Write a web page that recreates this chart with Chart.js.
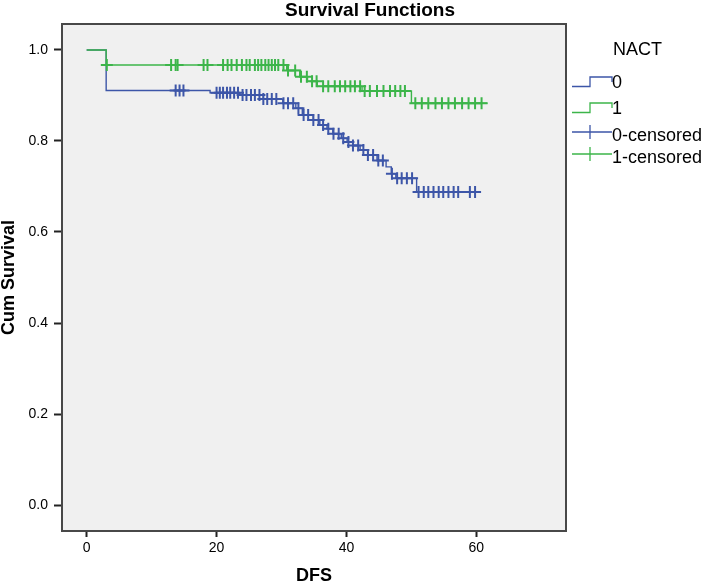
<!DOCTYPE html>
<html>
<head>
<meta charset="utf-8">
<script src="https://cdn.jsdelivr.net/npm/chart.js@4/dist/chart.umd.min.js"></script>
<style>
  html, body { margin: 0; padding: 0; background: #fff; }
  #wrap { width: 708px; height: 585px; }
</style>
</head>
<body>
<div id="wrap"><canvas id="chartCanvas" width="708" height="585"></canvas></div>
<script>
// Kaplan-Meier curves
var chartTitle = 'Survival Functions';
var legendTitle = 'NACT';
var groupNames = ['0', '1'];

// NACT = 0 : step times and survival after each step
var times0 = [0, 3.0, 19.0, 23.6, 27.2, 30.2, 32.2, 33.2, 34.9, 35.9, 37.0, 37.9, 39.2, 40.1, 41.0, 42.1, 43.3, 44.7, 46.1, 46.9, 47.6, 50.8, 60.6];
var surv0 = [1.0, 0.911, 0.906, 0.901, 0.892, 0.883, 0.872, 0.857, 0.846, 0.835, 0.827, 0.816, 0.806, 0.798, 0.790, 0.780, 0.769, 0.757, 0.743, 0.728, 0.718, 0.688, 0.688];
var censored0 = [13.7, 14.3, 14.9, 20.0, 20.5, 21.0, 21.6, 22.1, 22.7, 23.3, 24.0, 24.6, 25.3, 25.9, 26.6, 27.2, 27.8, 28.5, 29.2,
    30.3, 31.0, 31.8, 32.6, 33.4, 34.1, 34.9, 35.7, 36.4, 37.2, 38.0, 38.8, 39.5, 40.3, 41.0, 41.8, 42.6, 43.3, 44.1, 44.9, 45.6,
    47.0, 47.8, 48.5, 49.3, 50.1, 51.1, 51.9, 52.6, 53.4, 54.2, 54.9, 55.7, 56.5, 57.2, 59.0, 59.8];

// NACT = 1
var times1 = [0, 3.0, 30.8, 32.8, 34.0, 35.5, 42.4, 50.0, 61.7];
var surv1 = [1.0, 0.967, 0.955, 0.941, 0.931, 0.920, 0.910, 0.883, 0.883];
var censored1 = [3.1, 13.0, 13.7, 14.0, 18.0, 18.6, 21.0, 21.7, 22.3, 23.1, 23.9, 24.6, 25.1, 25.9, 26.4, 26.9, 27.5, 28.0, 28.5, 29.0,
    29.5, 30.3, 31.0, 32.1, 33.0, 33.9, 34.7, 35.4, 36.4, 37.2, 38.2, 39.0, 39.8, 40.6, 41.3, 42.1, 42.8, 43.6, 44.7, 45.7,
    46.7, 47.5, 48.3, 49.0, 50.6, 51.6, 52.6, 53.7, 54.7, 55.7, 56.7, 57.8, 58.8, 59.8, 60.8];

var xTickValues = [0, 20, 40, 60];
var yTickValues = [0, 0.2, 0.4, 0.6, 0.8, 1.0];

var blue = '#3d56a8';
var green = '#3cb54a';

function stepPoints(times, surv) {
    return times.map(function (t, i) { return { x: t, y: surv[i] }; });
}

// survival level at time t (last step at or before t)
function survAt(times, surv, t) {
    var s = surv[0];
    for (var i = 0; i < times.length; i++) {
        if (times[i] <= t) s = surv[i];
    }
    return s;
}

function censorPoints(times, surv, cens) {
    return cens.map(function (t) { return { x: t, y: survAt(times, surv, t) }; });
}

var plotFrame = {
    id: 'plotFrame',
    beforeDraw: function (chart) {
        var a = chart.chartArea, ctx = chart.ctx;
        ctx.save();
        ctx.fillStyle = '#f0f0f0';
        ctx.fillRect(a.left, a.top, a.right - a.left, a.bottom - a.top);
        ctx.restore();
    },
    afterDraw: function (chart) {
        var a = chart.chartArea, ctx = chart.ctx;
        ctx.save();
        ctx.strokeStyle = '#484848';
        ctx.lineWidth = 2;
        ctx.strokeRect(a.left, a.top, a.right - a.left, a.bottom - a.top);

        // title
        ctx.fillStyle = '#000';
        ctx.font = 'bold 19px "Liberation Sans", Arial, sans-serif';
        ctx.textAlign = 'left';
        ctx.textBaseline = 'alphabetic';
        ctx.fillText(chartTitle, 285, 16);

        // legend
        var lx = 572, rx = 612, mx = 590;
        ctx.font = '18px "Liberation Sans", Arial, sans-serif';
        ctx.fillText(legendTitle, 613, 55);
        var rows = [
            { text: groupNames[0], color: blue, kind: 'step', base: 88 },
            { text: groupNames[1], color: green, kind: 'step', base: 114 },
            { text: groupNames[0] + '-censored', color: blue, kind: 'cross', base: 141 },
            { text: groupNames[1] + '-censored', color: green, kind: 'cross', base: 163 }
        ];
        rows.forEach(function (r) {
            ctx.strokeStyle = r.color;
            ctx.lineWidth = 1.3;
            ctx.beginPath();
            if (r.kind === 'step') {
                var lo = r.base - 1.5, hi = r.base - 11;
                ctx.moveTo(lx, lo);
                ctx.lineTo(mx, lo);
                ctx.lineTo(mx, hi);
                ctx.lineTo(rx, hi);
                ctx.lineTo(rx, hi + 5);
            } else {
                var cy = r.base - 9;
                ctx.moveTo(lx, cy);
                ctx.lineTo(rx, cy);
                ctx.moveTo(mx, cy - 7);
                ctx.lineTo(mx, cy + 7);
            }
            ctx.stroke();
            ctx.fillStyle = '#000';
            ctx.fillText(r.text, rx, r.base);
        });
        ctx.restore();
    }
};

Chart.defaults.font.family = '"Liberation Sans", Arial, sans-serif';
Chart.defaults.color = '#000';

var ctx = document.getElementById('chartCanvas').getContext('2d');

var chart = new Chart(ctx, {
    type: 'scatter',
    data: {
        datasets: [
            {
                label: groupNames[1] + '-censored',
                data: censorPoints(times1, surv1, censored1),
                showLine: false,
                pointStyle: 'cross',
                pointRadius: 6,
                borderColor: green,
                borderWidth: 2
            },
            {
                label: groupNames[1],
                data: stepPoints(times1, surv1),
                showLine: true,
                stepped: true,
                pointRadius: 0,
                borderColor: green,
                borderWidth: 1.4
            },
            {
                label: groupNames[0] + '-censored',
                data: censorPoints(times0, surv0, censored0),
                showLine: false,
                pointStyle: 'cross',
                pointRadius: 6,
                borderColor: blue,
                borderWidth: 2
            },
            {
                label: groupNames[0],
                data: stepPoints(times0, surv0),
                showLine: true,
                stepped: true,
                pointRadius: 0,
                borderColor: blue,
                borderWidth: 1.4
            }
        ]
    },
    options: {
        responsive: false,
        animation: false,
        devicePixelRatio: 1,
        layout: {
            padding: { top: 24, right: 142, left: 0, bottom: 0 }
        },
        plugins: {
            legend: { display: false },
            title: { display: false },
            tooltip: { enabled: false }
        },
        scales: {
            x: {
                type: 'linear',
                min: -3.8,
                max: 73.8,
                afterBuildTicks: function (scale) {
                    scale.ticks = xTickValues.map(function (v) { return { value: v }; });
                },
                afterFit: function (scale) { scale.height = 54; },
                ticks: {
                    autoSkip: false,
                    maxRotation: 0,
                    padding: 3,
                    font: { size: 14 },
                    color: '#000'
                },
                grid: {
                    drawOnChartArea: false,
                    drawTicks: true,
                    tickLength: 6,
                    tickWidth: 2,
                    tickColor: '#222'
                },
                border: { display: false },
                title: {
                    display: true,
                    text: 'DFS',
                    color: '#000',
                    font: { size: 18, weight: 'bold', lineHeight: 1 },
                    padding: { top: 0, bottom: 0 }
                }
            },
            y: {
                type: 'linear',
                min: -0.057,
                max: 1.057,
                afterBuildTicks: function (scale) {
                    scale.ticks = yTickValues.map(function (v) { return { value: v }; });
                },
                afterFit: function (scale) { scale.width = 62; },
                ticks: {
                    autoSkip: false,
                    padding: 6,
                    font: { size: 14 },
                    color: '#000',
                    callback: function (v) { return Number(v).toFixed(1); }
                },
                grid: {
                    drawOnChartArea: false,
                    drawTicks: true,
                    tickLength: 8,
                    tickWidth: 2,
                    tickColor: '#222'
                },
                border: { display: false },
                title: {
                    display: true,
                    text: 'Cum Survival',
                    color: '#000',
                    font: { size: 18, weight: 'bold', lineHeight: 1 },
                    padding: { top: 0, bottom: 0 }
                }
            }
        }
    },
    plugins: [plotFrame]
});
</script>
</body>
</html>
